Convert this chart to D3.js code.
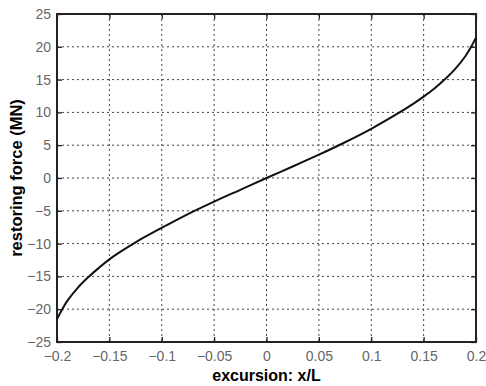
<!DOCTYPE html>
<html>
<head>
<meta charset="utf-8">
<script src="https://cdn.jsdelivr.net/npm/d3@7"></script>
<style>
  body { margin: 0; background: #fff; }
  svg { display: block; font-family: "Liberation Sans", Arial, sans-serif; }
</style>
</head>
<body>
<svg id="chart" width="486" height="386"></svg>
<script>
// values
const excursion = [-0.2, -0.195, -0.19, -0.18, -0.17, -0.16, -0.15, -0.14, -0.125, -0.1, -0.075, -0.05, -0.025,
  0, 0.025, 0.05, 0.075, 0.1, 0.125, 0.14, 0.15, 0.16, 0.17, 0.18, 0.19, 0.195, 0.2];
const force = [-21.5, -20.0, -18.7, -16.7, -15.1, -13.7, -12.4, -11.3, -9.8, -7.6, -5.5, -3.6, -1.8,
  0, 1.75, 3.55, 5.45, 7.5, 9.8, 11.3, 12.4, 13.6, 15.0, 16.6, 18.6, 19.9, 21.4];
const xTicks = [-0.2, -0.15, -0.1, -0.05, 0, 0.05, 0.1, 0.15, 0.2];
const yTicks = [-25, -20, -15, -10, -5, 0, 5, 10, 15, 20, 25];

const margin = { top: 14, right: 10, bottom: 44, left: 57 };
const width = 486 - margin.left - margin.right;
const height = 386 - margin.top - margin.bottom;

const svg = d3.select('#chart');
const g = svg.append('g')
  .attr('transform', `translate(${margin.left},${margin.top})`);

const x = d3.scaleLinear().domain([-0.2, 0.2]).range([0, width]);
const y = d3.scaleLinear().domain([-25, 25]).range([height, 0]);

// dotted grid
g.append('g')
  .selectAll('line')
  .data(xTicks.slice(1, -1))
  .enter().append('line')
  .attr('x1', (d) => x(d)).attr('x2', (d) => x(d))
  .attr('y1', 0).attr('y2', height)
  .attr('stroke', '#444')
  .attr('stroke-width', 1)
  .attr('stroke-dasharray', '2,3');

g.append('g')
  .selectAll('line')
  .data(yTicks.slice(1, -1))
  .enter().append('line')
  .attr('y1', (d) => y(d)).attr('y2', (d) => y(d))
  .attr('x1', 0).attr('x2', width)
  .attr('stroke', '#444')
  .attr('stroke-width', 1)
  .attr('stroke-dasharray', '2,3');

// inward ticks on all sides
const fmt = (d) => (d === 0 ? '0' : d3.format('')(d));
const styleAxis = (sel, labels) => {
  sel.select('.domain').remove();
  sel.selectAll('.tick line').attr('stroke', '#222').attr('stroke-width', 1.3);
  sel.selectAll('.tick text')
    .attr('fill', labels ? '#666' : 'none')
    .style('font-size', '14px');
};

g.append('g')
  .attr('transform', `translate(0,${height})`)
  .call(d3.axisBottom(x).tickValues(xTicks).tickFormat(fmt).tickSizeInner(-5).tickPadding(9))
  .call((s) => styleAxis(s, true));

g.append('g')
  .call(d3.axisTop(x).tickValues(xTicks).tickFormat('').tickSizeInner(-5))
  .call((s) => styleAxis(s, false));

g.append('g')
  .call(d3.axisLeft(y).tickValues(yTicks).tickFormat(fmt).tickSizeInner(-5).tickPadding(6))
  .call((s) => styleAxis(s, true));

g.append('g')
  .attr('transform', `translate(${width},0)`)
  .call(d3.axisRight(y).tickValues(yTicks).tickFormat('').tickSizeInner(-5))
  .call((s) => styleAxis(s, false));

// frame
g.append('rect')
  .attr('width', width).attr('height', height)
  .attr('fill', 'none')
  .attr('stroke', '#222')
  .attr('stroke-width', 2);

// curve
const line = d3.line()
  .x((d, i) => x(excursion[i]))
  .y((d) => y(d))
  .curve(d3.curveCatmullRom);

g.append('path')
  .datum(force)
  .attr('d', line)
  .attr('fill', 'none')
  .attr('stroke', '#111')
  .attr('stroke-width', 2);

// axis labels
svg.append('text')
  .attr('x', margin.left + width / 2)
  .attr('y', 381)
  .attr('text-anchor', 'middle')
  .style('font-size', '16px')
  .style('font-weight', 'bold')
  .text('excursion: x/L');

svg.append('text')
  .attr('transform', `translate(22,${margin.top + height / 2}) rotate(-90)`)
  .attr('text-anchor', 'middle')
  .style('font-size', '16.5px')
  .style('font-weight', 'bold')
  .text('restoring force (MN)');
</script>
</body>
</html>
